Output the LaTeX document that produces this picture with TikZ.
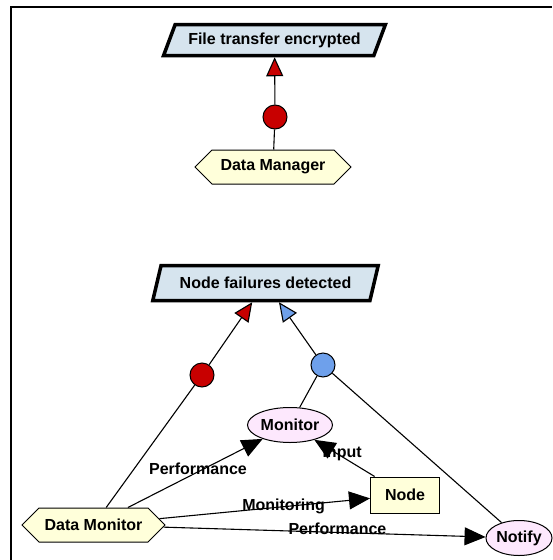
\documentclass[tikz,border=0pt]{standalone}
\usepackage{fontspec}
\setmainfont{Liberation Sans}
\usepackage{xcolor}
\usepackage{tikz}
\usetikzlibrary{arrows.meta, shapes.geometric, shapes.symbols, positioning}
\definecolor{goalblue}{RGB}{214,228,238}
\definecolor{actorcream}{RGB}{255,255,218}
\definecolor{rolepink}{RGB}{253,232,253}
\definecolor{dotred}{RGB}{200,0,0}
\definecolor{dotblue}{RGB}{110,160,235}
\tikzset{
    lbl/.style = {font=\bfseries\fontsize{16}{19}\selectfont},
    goalnode/.style = {draw, line width=3.5pt, fill=goalblue, trapezium, trapezium stretches=true,
      inner sep=0pt, lbl},
    hexnode/.style = {draw, line width=1pt, fill=actorcream, signal, signal to=west and east,
      signal pointer angle=90, inner sep=0pt, minimum height=34, lbl},
    ellipsenode/.style = {draw, line width=1pt, fill=rolepink, ellipse, inner sep=0pt, lbl},
    boxnode/.style = {draw, line width=1pt, fill=actorcream, rectangle, inner sep=0pt, lbl},
    dotnode/.style = {draw, line width=1pt, circle, minimum size=24, inner sep=0pt},
    textnode/.style = {draw=none, fill=none, inner sep=0pt, lbl},
    connect/.style = {black, line width=1.1pt, -{Triangle[length=21pt,width=18pt]}},
    redconnect/.style = {black, line width=1.1pt, -{Triangle[length=19pt,width=17pt,fill=dotred]}},
    blueconnect/.style = {black, line width=1.1pt, -{Triangle[length=19pt,width=17pt,fill=dotblue]}},
    plain/.style = {black, line width=1.1pt}
}

\begin{document}
\begin{tikzpicture}[x=1pt, y=-1pt]
    \useasboundingbox (0,0) rectangle (552,560);
    \draw [line width=2.5pt] (11,560) -- (11,7) -- (552,7);

    % upper goal
    \node [name=transfer, goalnode, minimum width=222, minimum height=31,
        trapezium left angle=56, trapezium right angle=124] at (274.5,40) {File transfer encrypted};
    \node [name=dman, hexnode, minimum width=156] at (273,167) {Data Manager};
    \node [name=dot1, dotnode, fill=dotred] at (275,117) {};
    \draw (dman) edge[plain] (dot1);
    \draw (dot1) edge[redconnect] (transfer);

    % lower goal
    \node [name=failures, goalnode, minimum width=226, minimum height=35,
        trapezium left angle=60, trapezium right angle=120] at (265.5,283) {Node failures detected};
    \node [name=dmon, hexnode, minimum width=143] at (93.5,525) {Data Monitor};
    \node [name=mon, ellipsenode, minimum width=85, minimum height=35] at (290,425) {Monitor};
    \node [name=nd, boxnode, minimum width=69, minimum height=36] at (405,495) {Node};
    \node [name=notify, ellipsenode, minimum width=66, minimum height=35] at (519,538) {Notify};

    \node [name=dot2, dotnode, fill=dotred] at (202,375) {};
    \node [name=dot3, dotnode, fill=dotblue] at (323,365) {};

    \draw (dmon) edge[plain] (dot2);
    \draw (dot2) edge[redconnect] (failures);
    \draw (mon) edge[plain] (dot3);
    \draw (notify) edge[plain] (dot3);
    \draw (dot3) edge[blueconnect] (failures);

    \draw (dmon) edge[connect] node[textnode, pos=0.52, yshift=3pt] {Performance} (mon);
    \draw (nd) edge[connect] node[textnode, pos=0.54, yshift=3pt] {Input} (mon);
    \draw (dmon) edge[connect] node[textnode, pos=0.59] {Monitoring} (nd);
    \draw (dmon) edge[connect] node[textnode, pos=0.54, yshift=4pt] {Performance} (notify);
\end{tikzpicture}
\end{document}
